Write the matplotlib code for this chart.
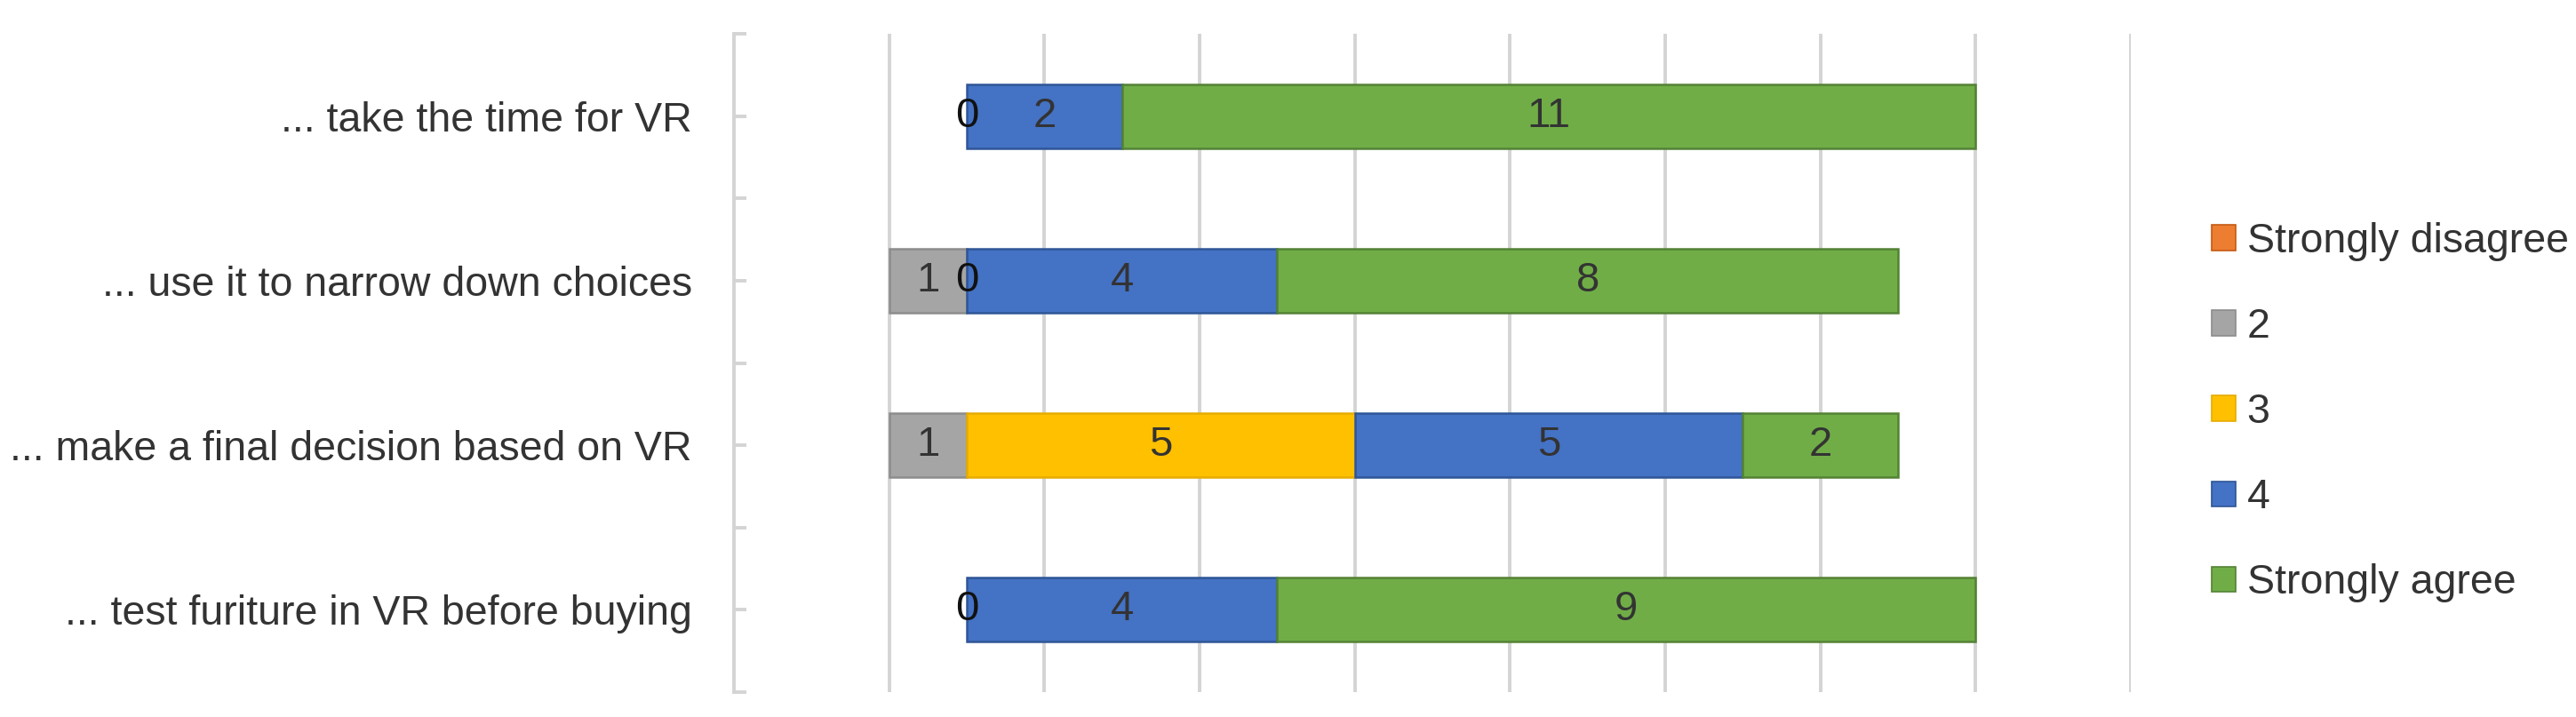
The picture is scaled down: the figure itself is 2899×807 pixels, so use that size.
"""Diverging stacked bars: agreement with VR furniture statements."""

import matplotlib.pyplot as plt
from matplotlib.patches import Patch

plt.rcParams["font.family"] = ["Liberation Sans", "DejaVu Sans"]

# statements, top to bottom
statements = [
    "... take the time for VR",
    "... use it to narrow down choices",
    "... make a final decision based on VR",
    "... test furiture in VR before buying",
]
levels = ["Strongly disagree", "2", "3", "4", "Strongly agree"]

strongly_disagree = [0, 0, 0, 0]
disagree = [0, 1, 1, 0]
neutral = [0, 0, 5, 0]
agree = [2, 4, 5, 4]
strongly_agree = [11, 8, 2, 9]

COLORS = ["#ED7D31", "#A5A5A5", "#FFC000", "#4472C4", "#70AD47"]
EDGES = ["#C55A11", "#8C8C8C", "#E6AC00", "#2F5597", "#548235"]
TEXT = "#333333"
GRID = "#D4D4D4"
CENTER = 3  # where neutral starts

fig = plt.figure(figsize=(28.99, 8.07), dpi=100)
W, H = 2899, 807
ax = fig.add_axes([826 / W, 1 - 779 / H, (2398 - 826) / W, (779 - 38) / H])

series = [strongly_disagree, disagree, neutral, agree, strongly_agree]
ypos = list(range(len(statements)))
left = [CENTER - sd - d for sd, d in zip(strongly_disagree, disagree)]

for k, vals in enumerate(series):
    lws = [1.8 if v > 0 else 0 for v in vals]
    ax.barh(ypos, vals, left=left, height=0.39, color=COLORS[k],
            edgecolor=EDGES[k], linewidth=lws, zorder=3)
    for y, l, v in zip(ypos, left, vals):
        # labels for every series but "Strongly disagree"; zeros only shown once
        if k > 0 and (v > 0 or levels[k] == "3"):
            ax.text(l + v / 2, y, str(v), ha="center", va="center",
                    fontsize=34, color=TEXT if v else "#111111", zorder=4)
    left = [l + v for l, v in zip(left, vals)]

ax.set_xlim(0, 18)
ax.set_ylim(3.5, -0.5)
ax.set_xticks(range(2, 19, 2))
ax.tick_params(axis="x", length=0, labelbottom=False)
ax.grid(True, axis="x", color=GRID, linewidth=2.8, zorder=0)
ax.set_axisbelow(True)

ax.set_yticks(ypos)
ax.set_yticklabels(statements, fontsize=33.5, color=TEXT)
ax.set_yticks([y + 0.5 for y in [-1] + ypos], minor=True)
ax.tick_params(axis="y", which="both", direction="in", length=10,
               width=2.8, color=GRID, pad=34)

for s in ["top", "right", "bottom"]:
    ax.spines[s].set_visible(False)
ax.spines["left"].set_color(GRID)
ax.spines["left"].set_linewidth(2.8)

handles = [Patch(facecolor=c, edgecolor=e, linewidth=1.2) for c, e in zip(COLORS, EDGES)]
leg = fig.legend(handles, levels, loc="upper left",
                 bbox_to_anchor=(2489 / W, 1 - 250 / H), frameon=False,
                 fontsize=33.5, handlelength=0.57, handleheight=0.57,
                 handletextpad=0.28, labelspacing=1.12, borderpad=0,
                 borderaxespad=0)
for t in leg.get_texts():
    t.set_color(TEXT)

fig.savefig("out.png", dpi=100)
